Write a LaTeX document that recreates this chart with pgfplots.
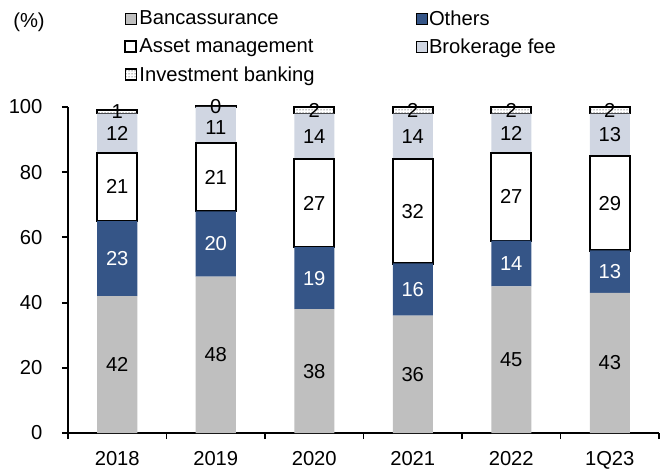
\documentclass[border=0pt]{standalone}
\usepackage{pgfplots}
\pgfplotsset{compat=1.18}
\usepackage{fontspec}
\setmainfont{Liberation Sans}
\usetikzlibrary{patterns}

\definecolor{banca}{HTML}{BFBFBF}
\definecolor{others}{HTML}{355587}
\definecolor{broker}{HTML}{D0D6E2}

\newcommand{\lbl}{\fontsize{20.2}{24}\selectfont}

\pgfplotsset{
  frame/.style={
    width=591pt, height=326pt, scale only axis,
    xmin=-0.5, xmax=5.5, ymin=0, ymax=100,
  }
}

\begin{document}
\begin{tikzpicture}
\begin{axis}[
  name=main,
  frame,
  ybar stacked,
  bar width=40pt,
  axis lines*=left,
  axis line style={line width=1.8pt},
  tick align=outside,
  xtick={0,...,5},
  xticklabels={2018,2019,2020,2021,2022,1Q23},
  major x tick style={draw=none},
  minor xtick={-0.5,0.5,...,5.5},
  minor x tick style={line width=1.8pt, black},
  minor tick length=6pt,
  ytick={0,20,...,100},
  y tick style={line width=1.8pt, black},
  major tick length=6pt,
  tick label style={font=\lbl},
  xticklabel style={yshift=-9pt},
  yticklabel style={xshift=-16pt},
  /pgf/number format/assume math mode=true,
  legend columns=2,
  legend cell align=left,
  legend style={draw=none, fill=none, font=\lbl, inner sep=0pt,
    at={(0.0948,1.303)}, anchor=north west,
    /tikz/every even column/.append style={column sep=99pt},
    row sep=8pt},
  legend image code/.code={\draw[#1] (0pt,-5.5pt) rectangle (11pt,5.5pt);},
  clip=false,
]
\addplot[fill=banca, draw=none] coordinates {(0,42) (1,48) (2,38) (3,36) (4,45) (5,43)};
\addplot[fill=others, draw=none] coordinates {(0,23) (1,20) (2,19) (3,16) (4,14) (5,13)};
\addplot[fill=white, draw=black, line width=2.2pt] coordinates {(0,21) (1,21) (2,27) (3,32) (4,27) (5,29)};
\addplot[fill=broker, draw=none] coordinates {(0,12) (1,11) (2,14) (3,14) (4,12) (5,13)};
\addplot[fill=white, draw=black, line width=1.6pt,
  postaction={pattern=dots, pattern color=black}] coordinates {(0,1) (1,0.3) (2,2) (3,2) (4,2) (5,2)};
\legend{Bancassurance, Others, Asset management, Brokerage fee, Investment banking}
\end{axis}

\begin{axis}[
  frame, hide axis, clip=false,
  nodes near coords,
  point meta=explicit symbolic,
  every node near coord/.style={anchor=center, font=\lbl, text=black},
]
\addplot[draw=none] coordinates {(0,21)[42] (1,24)[48] (2,19)[38] (3,18)[36] (4,22.5)[45] (5,21.5)[43]};
\addplot[draw=none, every node near coord/.append style={text=white}] coordinates {(0,53.5)[23] (1,58)[20] (2,47.5)[19] (3,44)[16] (4,52)[14] (5,49.5)[13]};
\addplot[draw=none] coordinates {(0,75.5)[21] (1,78.5)[21] (2,70.5)[27] (3,68)[32] (4,72.5)[27] (5,70.5)[29]};
\addplot[draw=none] coordinates {(0,92)[12] (1,93.8)[11] (2,91)[14] (3,91)[14] (4,92)[12] (5,91.5)[13]};
\addplot[draw=none] coordinates {(0,98.5)[1] (1,100.2)[0] (2,99)[2] (3,99)[2] (4,99)[2] (5,99)[2]};
\end{axis}

\node[font=\lbl, anchor=center] at ([xshift=-39pt,yshift=85pt]main.north west) {(\%)};
\path ([xshift=-68pt,yshift=-38pt]main.south west) rectangle ++(660pt,471pt);
\end{tikzpicture}
\end{document}
